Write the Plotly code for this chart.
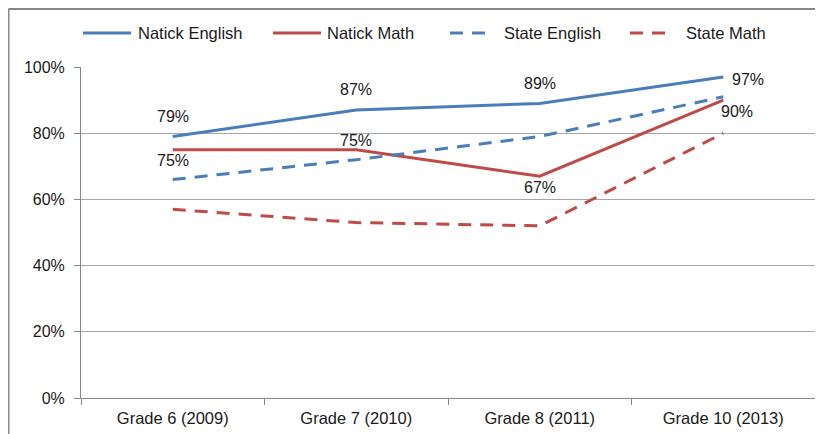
import plotly.graph_objects as go

categories = ["Grade 6 (2009)", "Grade 7 (2010)", "Grade 8 (2011)", "Grade 10 (2013)"]
natick_english = [79, 87, 89, 97]
natick_math = [75, 75, 67, 90]
state_english = [66, 72, 79, 91]
state_math = [57, 53, 52, 80]
y_ticks = [0, 20, 40, 60, 80, 100]
y_tick_labels = ["0%", "20%", "40%", "60%", "80%", "100%"]

FONT = "Liberation Sans, Arial"
BLUE = "#4a7ebb"
RED = "#be4b48"
TXT = "#1a1a1a"
DASH = "13px,9px"

# page is offset by 8px body margin; margins compensate
OFF = 8
L, R, T, B = 73, 16, 59, 44
PW, PH = 823 - L - R, 434 - T - B


def px(page_x):
    return (page_x - OFF - L) / PW


def py(page_y):
    return (T + PH - (page_y - OFF)) / PH


series = [
    ("Natick English", natick_english, BLUE, "solid"),
    ("Natick Math", natick_math, RED, "solid"),
    ("State English", state_english, BLUE, DASH),
    ("State Math", state_math, RED, DASH),
]

fig = go.Figure()
for name, vals, col, dash in series:
    fig.add_trace(go.Scatter(
        x=categories, y=vals, name=name, mode="lines",
        line=dict(color=col, width=3, dash=dash), showlegend=False,
    ))

# data labels (label placement styles per point)
ne_shift = [(0, 20.5), (0, 21), (0, 20), (25, -3)]
nm_shift = [(0, -11), (0, 9.5), (0, -11.5), (14, -11.5)]
annotations = []
for vals, shifts in ((natick_english, ne_shift), (natick_math, nm_shift)):
    for c, v, (dx, dy) in zip(categories, vals, shifts):
        annotations.append(dict(
            x=c, y=v, xref="x", yref="y", text=f"{v}%", showarrow=False,
            xanchor="center", yanchor="middle", xshift=dx, yshift=dy,
            font=dict(family=FONT, size=16, color=TXT),
        ))

# custom legend (line sample start/end, text start, in page px)
legend_pos = [(83, 131, 136), (273, 321, 325), (450, 493, 502), (630, 672, 684)]
LEG_Y = 33
shapes = []
for (name, vals, col, dash), (x0, x1, xt) in zip(series, legend_pos):
    shapes.append(dict(type="line", xref="paper", yref="paper",
                       x0=px(x0), x1=px(x1), y0=py(LEG_Y), y1=py(LEG_Y),
                       line=dict(color=col, width=3, dash=dash)))
    annotations.append(dict(x=px(xt), y=py(LEG_Y), xref="paper", yref="paper",
                            text=name, showarrow=False, xanchor="left",
                            yanchor="middle",
                            font=dict(family=FONT, size=16.5, color=TXT)))

# chart frame
shapes += [
    dict(type="line", xref="paper", yref="paper",
         x0=px(8.5), x1=1.05, y0=py(9), y1=py(9),
         line=dict(color="#888", width=2)),
    dict(type="line", xref="paper", yref="paper",
         x0=px(8.5), x1=px(8.5), y0=-0.3, y1=py(9),
         line=dict(color="#888", width=2)),
]

fig.update_layout(
    width=823, height=434,
    margin=dict(l=L, r=R, t=T, b=B, autoexpand=False),
    paper_bgcolor="white", plot_bgcolor="white",
    font=dict(family=FONT, size=16, color=TXT),
    showlegend=False,
    xaxis=dict(type="category", range=[-0.5, 3.5], showgrid=False, showline=True,
               linecolor="#888", linewidth=1,
               ticks="outside", tickson="boundaries", ticklen=6, tickcolor="#888",
               ticklabelstandoff=5,
               tickfont=dict(family=FONT, size=16.5, color=TXT)),
    yaxis=dict(range=[0, 100], tickvals=y_ticks, ticktext=y_tick_labels,
               showgrid=True, gridcolor="#a6a6a6", gridwidth=1,
               showline=True, linecolor="#888", ticks="outside", ticklen=6,
               tickcolor="#888", zeroline=False, ticklabelstandoff=6,
               tickfont=dict(family=FONT, size=16, color=TXT)),
    annotations=annotations,
    shapes=shapes,
)

fig.write_html("out.html")
